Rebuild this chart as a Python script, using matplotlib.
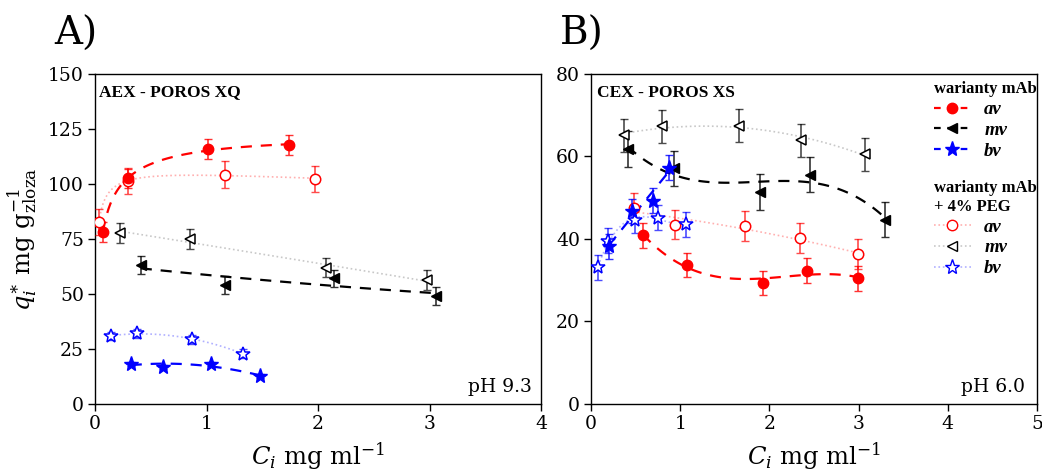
import numpy as np
import matplotlib
matplotlib.use('Agg')
import matplotlib.pyplot as plt
from matplotlib.lines import Line2D

plt.rcParams['font.family'] = 'DejaVu Serif'
plt.rcParams['mathtext.fontset'] = 'dejavuserif'

# ---- panel A: AEX - POROS XQ, pH 9.3 ----
a_av_x = [0.07, 0.30, 1.01, 1.74]
a_av_y = [78.1, 102.5, 116.0, 117.6]
a_av_e = [4.5, 4.5, 4.5, 4.5]
a_av_peg_x = [0.035, 0.30, 1.17, 1.97]
a_av_peg_y = [82.7, 101.4, 104.3, 102.3]
a_av_peg_e = [6.0, 6.0, 6.0, 6.0]
a_mv_x = [0.41, 1.165, 2.14, 3.06]
a_mv_y = [63.2, 54.1, 57.1, 49.2]
a_mv_e = [4.0, 4.0, 4.0, 4.0]
a_mv_peg_x = [0.22, 0.855, 2.07, 2.98]
a_mv_peg_y = [77.7, 75.1, 62.0, 56.3]
a_mv_peg_e = [4.5, 4.5, 4.5, 4.5]
a_bv_x = [0.32, 0.61, 1.04, 1.48]
a_bv_y = [18.3, 16.8, 18.3, 12.6]
a_bv_e = [1.0, 1.0, 1.0, 1.0]
a_bv_peg_x = [0.14, 0.38, 0.87, 1.33]
a_bv_peg_y = [30.9, 32.1, 29.4, 22.8]
a_bv_peg_e = [2.0, 2.0, 2.0, 2.0]

# ---- panel B: CEX - POROS XS, pH 6.0 ----
b_av_x = [0.58, 1.08, 1.93, 2.42, 2.99]
b_av_y = [40.9, 33.7, 29.3, 32.3, 30.5]
b_av_e = [3.0, 3.0, 3.0, 3.0, 3.0]
b_av_peg_x = [0.48, 0.94, 1.73, 2.34, 2.99]
b_av_peg_y = [47.5, 43.5, 43.1, 40.2, 36.3]
b_av_peg_e = [3.6, 3.6, 3.6, 3.6, 3.6]
b_mv_x = [0.41, 0.93, 1.89, 2.46, 3.30]
b_mv_y = [61.8, 57.1, 51.4, 55.6, 44.7]
b_mv_e = [4.3, 4.3, 4.3, 4.3, 4.3]
b_mv_peg_x = [0.37, 0.80, 1.66, 2.35, 3.07]
b_mv_peg_y = [65.2, 67.3, 67.5, 63.9, 60.6]
b_mv_peg_e = [4.0, 4.0, 4.0, 4.0, 4.0]
b_bv_x = [0.20, 0.46, 0.69, 0.87]
b_bv_y = [38.2, 46.8, 49.3, 57.3]
b_bv_e = [3.0, 3.0, 3.0, 3.0]
b_bv_peg_x = [0.08, 0.19, 0.49, 0.75, 1.06]
b_bv_peg_y = [33.1, 39.6, 44.5, 45.2, 43.6]
b_bv_peg_e = [3.0, 3.0, 3.0, 3.0, 3.0]

red = '#ff0000'
black = '#000000'
blue = '#0000ff'
light = {red: '#ffb0b0', black: '#c8c8c8', blue: '#b0b0ff'}
tfont = 'Liberation Serif'


def series(ax, x, y, e, color, marker, ms, filled, deg=2, logx=False):
    x = np.array(x)
    y = np.array(y)
    # smooth trend line fitted to the points
    xs = np.linspace(x.min(), x.max(), 100)
    if logx:
        p = np.poly1d(np.polyfit(np.log(x), y, deg))
        ys = p(np.log(xs))
    else:
        p = np.poly1d(np.polyfit(x, y, deg))
        ys = p(xs)
    if filled:
        ax.plot(xs, ys, color=color, ls=(0, (5, 4)), lw=1.6, zorder=2)
        ax.errorbar(x, y, yerr=e, fmt='none', ecolor=color, elinewidth=1.2,
                    capsize=3, alpha=0.8, zorder=3)
        ax.plot(x, y, ls='none', marker=marker, ms=ms, color=color,
                mec=color, zorder=4)
    else:
        ax.plot(xs, ys, color=light[color], ls=':', lw=1.2, zorder=1)
        ax.errorbar(x, y, yerr=e, fmt='none', ecolor=color, elinewidth=1.2,
                    capsize=3, alpha=0.7, zorder=3)
        ax.plot(x, y, ls='none', marker=marker, ms=ms, mfc='white',
                mec=color, mew=1.1, zorder=4)


fig = plt.figure(figsize=(10.42, 4.71), dpi=100)
axA = fig.add_axes([0.0912, 0.1423, 0.428, 0.7006])
axB = fig.add_axes([0.5672, 0.1423, 0.428, 0.7006])

series(axA, a_av_peg_x, a_av_peg_y, a_av_peg_e, red, 'o', 7.5, False, logx=True)
series(axA, a_mv_peg_x, a_mv_peg_y, a_mv_peg_e, black, '<', 7.5, False)
series(axA, a_bv_peg_x, a_bv_peg_y, a_bv_peg_e, blue, '*', 10, False)
series(axA, a_av_x, a_av_y, a_av_e, red, 'o', 7.5, True, logx=True)
series(axA, a_mv_x, a_mv_y, a_mv_e, black, '<', 7.5, True)
series(axA, a_bv_x, a_bv_y, a_bv_e, blue, '*', 11, True)

series(axB, b_av_peg_x, b_av_peg_y, b_av_peg_e, red, 'o', 7.5, False)
series(axB, b_mv_peg_x, b_mv_peg_y, b_mv_peg_e, black, '<', 7.5, False)
series(axB, b_bv_peg_x, b_bv_peg_y, b_bv_peg_e, blue, '*', 10, False, deg=3)
series(axB, b_av_x, b_av_y, b_av_e, red, 'o', 7.5, True, deg=3)
series(axB, b_mv_x, b_mv_y, b_mv_e, black, '<', 7.5, True, deg=3)
series(axB, b_bv_x, b_bv_y, b_bv_e, blue, '*', 11, True, deg=1)

axA.set_xlim(0, 4)
axA.set_ylim(0, 150)
axA.set_xticks([0, 1, 2, 3, 4])
axA.set_yticks([0, 25, 50, 75, 100, 125, 150])
axB.set_xlim(0, 5)
axB.set_ylim(0, 80)
axB.set_xticks([0, 1, 2, 3, 4, 5])
axB.set_yticks([0, 20, 40, 60, 80])

for ax in (axA, axB):
    ax.tick_params(direction='out', length=5, width=1, labelsize=13.5, pad=3)
    for s in ax.spines.values():
        s.set_linewidth(1.0)
    ax.set_xlabel(r'$C_i$ mg ml$^{\mathregular{-1}}$', fontsize=17.5, labelpad=5)

axA.set_ylabel(r'$q_i^{\ast}$ mg g$_{\mathregular{zloza}}^{\mathregular{-1}}$',
               fontsize=17.5, labelpad=6)

axA.text(0.01, 0.968, 'AEX - POROS XQ', transform=axA.transAxes, fontsize=12.5,
         family=tfont, fontweight='bold', va='top', ha='left')
axB.text(0.013, 0.968, 'CEX - POROS XS', transform=axB.transAxes, fontsize=12.5,
         family=tfont, fontweight='bold', va='top', ha='left')
axA.text(0.98, 0.035, 'pH 9.3', transform=axA.transAxes, fontsize=13.5,
         ha='right', va='baseline')
axB.text(0.973, 0.035, 'pH 6.0', transform=axB.transAxes, fontsize=13.5,
         ha='right', va='baseline')

fig.text(0.052, 0.905, 'A)', fontsize=28, va='baseline')
fig.text(0.537, 0.905, 'B)', fontsize=28, va='baseline')

# legends
names = ['av', 'mv', 'bv']
cols = [red, black, blue]
marks = [('o', 7.5), ('<', 7.5), ('*', 11)]
h1 = [Line2D([], [], color=c, ls=(0, (3, 3)), lw=1.6, marker=m, ms=s)
      for c, (m, s) in zip(cols, marks)]
h2 = [Line2D([], [], color=light[c], ls=':', lw=1.2, marker=m, ms=s,
             mfc='white', mec=c) for c, (m, s) in zip(cols, marks)]
lab_prop = {'family': tfont, 'weight': 'bold', 'style': 'italic', 'size': 13.5}
title_prop = {'family': tfont, 'weight': 'bold', 'size': 12}
common = dict(loc='upper left', frameon=False, prop=lab_prop,
              title_fontproperties=title_prop, alignment='left',
              handlelength=2.0, labelspacing=0.2, borderpad=0.0,
              handletextpad=0.7, borderaxespad=0.0)
leg1 = axB.legend(h1, names, bbox_to_anchor=(0.768, 0.978),
                  title='warianty mAb', **common)
axB.add_artist(leg1)
leg2 = axB.legend(h2, names, bbox_to_anchor=(0.768, 0.678),
                  title='warianty mAb\n+ 4% PEG', **common)

fig.savefig('out.png', dpi=100)
